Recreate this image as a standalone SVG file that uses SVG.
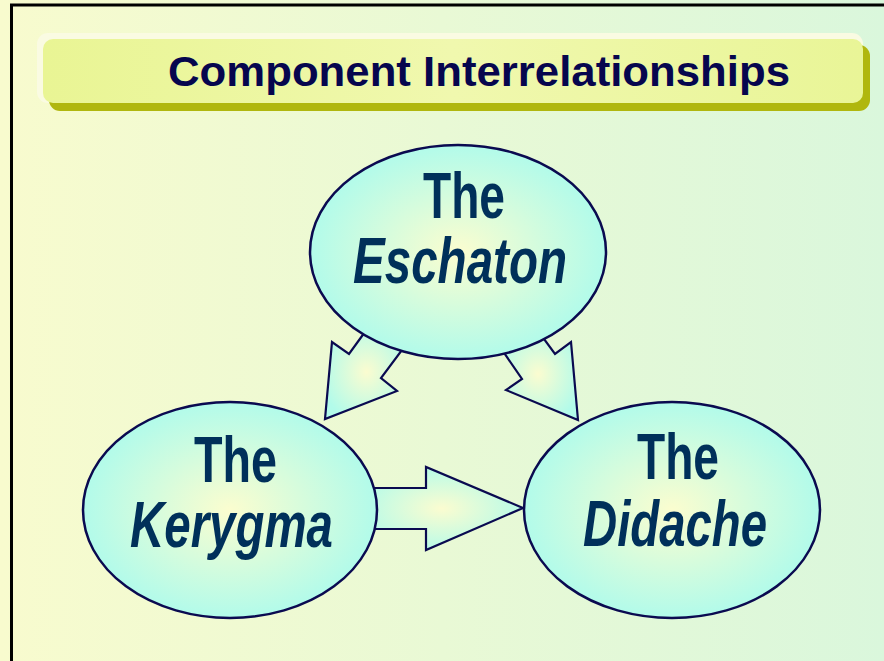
<svg xmlns="http://www.w3.org/2000/svg" width="884" height="661" viewBox="0 0 884 661">
  <defs>
    <linearGradient id="bg" x1="0" y1="0" x2="1" y2="0">
      <stop offset="0" stop-color="#f8fbce"/>
      <stop offset="1" stop-color="#daf7dc"/>
    </linearGradient>
    <linearGradient id="titleFace" x1="0" y1="0" x2="1" y2="0">
      <stop offset="0" stop-color="#e9f594"/>
      <stop offset="0.5" stop-color="#f0f8ae"/>
      <stop offset="1" stop-color="#e9f597"/>
    </linearGradient>
    <radialGradient id="nodeFill" cx="0.5" cy="0.5" r="0.5">
      <stop offset="0" stop-color="#fbfdcf"/>
      <stop offset="1" stop-color="#b2fbea"/>
    </radialGradient>
    <radialGradient id="arrowFill" cx="0.5" cy="0.5" r="0.55">
      <stop offset="0" stop-color="#fbfcd0"/>
      <stop offset="1" stop-color="#b2fbea"/>
    </radialGradient>
    <style>
      .node { fill: url(#nodeFill); stroke: #0a0a50; stroke-width: 2.5; }
      .arrow { fill: url(#arrowFill); stroke: #0a0a50; stroke-width: 2.2; stroke-linejoin: miter; }
      .lbl { font-family: "Liberation Sans", Arial, sans-serif; font-weight: bold; fill: #00305a; font-size: 64px; }
      .it { font-style: italic; }
      .title { font-family: "Liberation Sans", Arial, sans-serif; font-weight: bold; fill: #06064e; font-size: 43px; }
    </style>
  </defs>

  <!-- page background and frame -->
  <rect x="0" y="0" width="884" height="661" fill="url(#bg)"/>
  <path d="M11.5 661 V5 H884" fill="none" stroke="#000" stroke-width="3"/>

  <!-- title bar -->
  <g id="title">
    <rect x="37" y="33" width="826" height="70" rx="11" fill="#fafbe2"/>
    <rect x="49" y="45" width="821" height="66" rx="11" fill="#b0b70e"/>
    <rect x="43" y="39" width="820" height="64" rx="10" fill="url(#titleFace)"/>
    <text class="title" x="168" y="86" textLength="622" lengthAdjust="spacingAndGlyphs">Component Interrelationships</text>
  </g>

  <!-- connectors (drawn beneath the nodes) -->
  <g id="connectors">
    <polygon class="arrow" points="370,325 349,354 332,342 325,419 397,391 381,378 408,342"/>
    <polygon class="arrow" points="498,344 522,379 506,390 578,420 571,342 555,354 536,328"/>
    <polygon class="arrow" points="360,488 426,488 426,467 523,508 426,550 426,529 360,529"/>
  </g>

  <!-- nodes -->
  <g id="eschaton">
    <ellipse class="node" cx="458" cy="252" rx="148" ry="107"/>
    <text class="lbl" x="423" y="218" textLength="82" lengthAdjust="spacingAndGlyphs">The</text>
    <text class="lbl it" x="353" y="283" textLength="214" lengthAdjust="spacingAndGlyphs">Eschaton</text>
  </g>
  <g id="kerygma">
    <ellipse class="node" cx="230" cy="510" rx="147" ry="108"/>
    <text class="lbl" x="194" y="482" textLength="83" lengthAdjust="spacingAndGlyphs">The</text>
    <text class="lbl it" x="130" y="547" textLength="203" lengthAdjust="spacingAndGlyphs">Kerygma</text>
  </g>
  <g id="didache">
    <ellipse class="node" cx="672" cy="510" rx="148" ry="108"/>
    <text class="lbl" x="637" y="479" textLength="82" lengthAdjust="spacingAndGlyphs">The</text>
    <text class="lbl it" x="583" y="546" textLength="184" lengthAdjust="spacingAndGlyphs">Didache</text>
  </g>
</svg>
